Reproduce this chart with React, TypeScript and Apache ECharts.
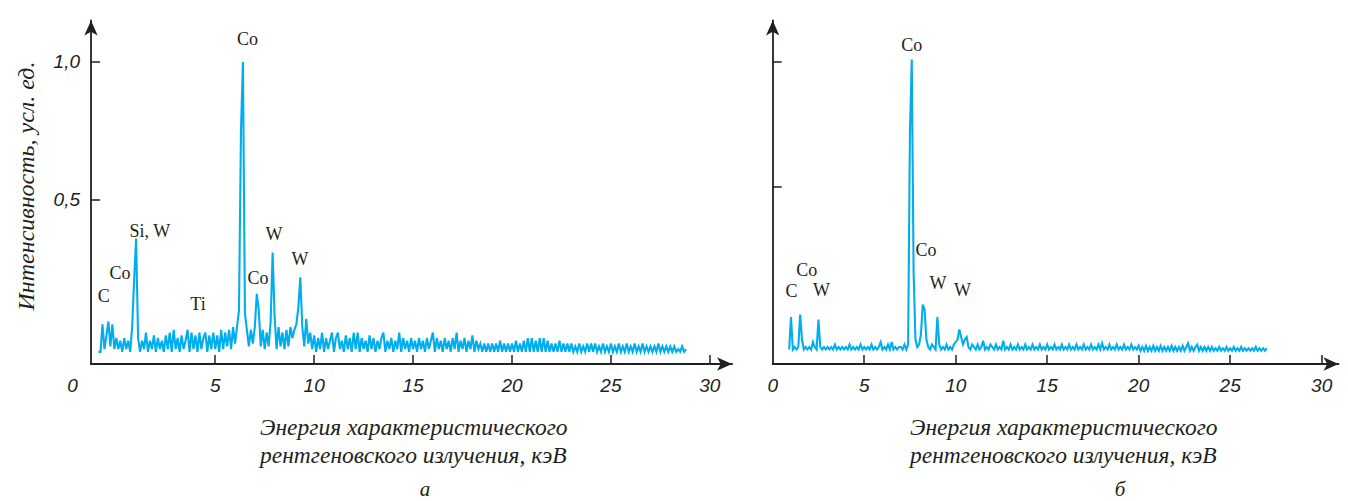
import React, { useEffect, useRef } from "react";
import * as echarts from "echarts";

// ---- Spectrum (a): energy grid start/step (keV), intensities in hundredths of a.u.
const energyStartA = -0.9;
const energyStepA = 0.1;
const intensityA = [
  -5, -5, 5, -4, 1, 6, -3, 5, -4,
  0, -4, -1, -5, 0, -4, -1, -5, 4, 21,
  36, 0, -5, -1, -4, 2, -5, -1, -4, 1,
  -5, 0, -4, -1, -5, 1, -4, 2, -5, 3,
  -4, 0, -5, 1, -4, -1, 3, -5, 2, -4,
  1, -5, 2, -4, 0, 2, -5, 1, -4, 2,
  -4, 1, -5, 3, -4, 2, -3, 3, -4, 4,
  -2, 4, 10, 75, 100, 9, 3, -3, 3, -2,
  4, 16, 10, -3, 3, -4, 2, -3, 6, 31,
  8, -4, 4, -3, 2, -4, 3, -3, 4, 0,
  3, 5, 11, 22, 4, -3, 7, -2, 2, -4,
  1, -5, 0, -4, 2, -5, 0, -4, -1, 2,
  -5, 0, 2, -4, -1, -5, 1, -4, 0, -5,
  2, -4, 2, -5, 0, -4, -1, -5, 1, -4,
  0, -5, -1, -4, 0, 2, -5, -1, -4, 0,
  -5, -1, -4, 2, -5, 0, -4, -1, -5, 0,
  -4, -1, -5, 0, -4, -1, -5, 0, -4, -1,
  2, -5, 0, -4, -1, -5, 0, -4, -1, -5,
  0, -4, 2, -5, -1, -4, 0, -5, -1, -4,
  1, -5, -1, -4, -2, -5, -2, -5, -2, -5,
  -2, -5, -2, -5, -1, -5, -2, -5, -2, -5,
  -2, -5, -1, -5, -2, -5, -1, -5, 0, -5,
  0, -5, -1, -5, 0, -5, 0, -5, -1, -5,
  -2, -5, -2, -5, -1, -5, -2, -5, -2, -5,
  -2, -5, -3, -5, -2, -5, -3, -5, -2, -5,
  -2, -5, -2, -5, -3, -5, -2, -5, -3, -5,
  -2, -5, -3, -5, -2, -5, -3, -5, -2, -5,
  -3, -5, -2, -5, -3, -5, -2, -5, -3, -5,
  -3, -5, -3, -5, -2, -5, -3, -5, -3, -5,
  -3, -5, -3, -5, -4, -5, -3, -5, -4,
];

// ---- Spectrum (б)
const energyStartB = 0.9;
const energyStepB = 0.1;
const intensityB = [
  -15,
  -2, -15, -14, -15, -14, -1, -11, -15, -14, -15,
  -14, -15, -12, -14, -15, -3, -14, -15, -14, -15,
  -14, -15, -14, -15, -13, -15, -14, -15, -14, -15,
  -14, -15, -13, -15, -14, -15, -14, -15, -13, -15,
  -14, -15, -14, -15, -13, -15, -14, -15, -14, -12,
  -15, -14, -15, -13, -15, -12, -15, -14, -15, -14,
  -14, -15, -13, -15, -13, 72, 101, 16, -11, -14,
  -13, -9, 3, 1, -11, -14, -15, -13, -14, -15,
  -2, -13, -15, -14, -15, -13, -15, -14, -15, -13,
  -12, -11, -7, -10, -13, -11, -10, -14, -15, -13,
  -14, -15, -13, -15, -14, -11.5, -15, -14, -15, -13,
  -14, -15, -13, -15, -14, -15, -11.5, -15, -14, -15,
  -13, -15, -14, -15, -13, -15, -14, -15, -13, -15,
  -14, -15, -13, -15, -14, -15, -13, -15, -14, -15,
  -13, -15, -14, -15, -13, -15, -14, -15, -13, -15,
  -14, -15, -13, -15, -14, -15, -13, -15, -14, -15,
  -13, -15, -14, -15, -13, -15, -14, -15, -13, -15,
  -12.5, -15, -14, -15, -13, -15, -14, -15, -13, -15,
  -14, -15, -13, -15, -14, -15, -13, -15, -14, -15,
  -13.5, -15.5, -14, -15.5, -13.5, -15.5, -14, -15.5, -13.5, -15.5,
  -14, -15.5, -13.5, -15.5, -14, -15.5, -14, -15.5, -13.5, -15.5,
  -14, -15.5, -14, -15.5, -13.5, -15.5, -14, -12.5, -15.5, -14,
  -15.5, -14, -13, -15.5, -14, -15.5, -14, -15.5, -14, -15.5,
  -14, -15.5, -14.5, -15.5, -14, -15.5, -14.5, -15.5, -14, -15.5,
  -14.5, -15.5, -14, -15.5, -14.5, -15.5, -14, -15.5, -14.5, -15.5,
  -14.5, -15.5, -14.5, -15.5, -14, -15.5, -14.5, -15.5, -14.5, -15.5,
  -14.5,
];

const xTickValues = [5, 10, 15, 20, 25, 30];
const xLabelValuesB = [0, 5, 10, 15, 20, 25, 30];
const yTickValues = [0.5, 1.0];

const peakLabelsA = ["C", "Co", "Si, W", "Ti", "Co", "Co", "W", "W"];
const peakLabelEnergyA = [-0.63, 0.18, 1.7, 4.13, 6.63, 7.16, 7.97, 9.28];
const peakLabelIntensityA = [0.152, 0.236, 0.388, 0.123, 1.083, 0.217, 0.377, 0.286];

const peakLabelsB = ["C", "Co", "W", "Co", "Co", "W", "W"];
const peakLabelEnergyB = [1.03, 1.86, 2.67, 7.6, 8.38, 9.03, 10.37];
const peakLabelIntensityB = [0.084, 0.168, 0.088, 1.068, 0.248, 0.116, 0.088];

const yTitle = "Интенсивность, усл. ед.";
const xTitleLine1 = "Энергия характеристического";
const xTitleLine2 = "рентгеновского излучения, кэВ";
const panelA = "а";
const panelB = "б";

const INK = "#231f20";
const CYAN = "#00aeef";
const SANS = '"Liberation Sans", Arial, sans-serif';
const SERIF = '"Liberation Serif", "Times New Roman", serif';

function buildSeriesData(start: number, step: number, vals: number[]) {
  return vals.map((v, i) => [Number((start + i * step).toFixed(2)), v / 100]);
}

function markData(names: string[], es: number[], vs: number[]) {
  return names.map((n, i) => ({ name: n, coord: [es[i], vs[i]] }));
}

function xAxisCfg(gridIndex: number, min: number, max: number, labelValues: number[], leftZero: boolean) {
  return {
    type: "value",
    gridIndex,
    min,
    max,
    axisLine: {
      show: true,
      onZero: false,
      symbol: ["none", "arrow"],
      symbolSize: [10, 15],
      lineStyle: { color: INK, width: 1.8 },
    },
    axisTick: { show: true, inside: true, length: 9, customValues: xTickValues, lineStyle: { color: INK, width: 1.5 } },
    axisLabel: {
      show: true,
      customValues: labelValues,
      margin: 12,
      color: INK,
      fontSize: 19,
      fontStyle: "italic",
      fontFamily: SANS,
      formatter: (v: number) => (leftZero && v < 0 ? "{z|0}" : String(v)),
      rich: {
        z: { padding: [0, 37, 0, 0], color: INK, fontSize: 19, fontStyle: "italic", fontFamily: SANS },
      },
    },
    splitLine: { show: false },
  };
}

function yAxisCfg(gridIndex: number, min: number, max: number, showLabels: boolean) {
  return {
    type: "value",
    gridIndex,
    min,
    max,
    axisLine: {
      show: true,
      onZero: false,
      symbol: ["none", "arrow"],
      symbolSize: [10, 15],
      lineStyle: { color: INK, width: 1.8 },
    },
    axisTick: { show: true, inside: true, length: 9, customValues: yTickValues, lineStyle: { color: INK, width: 1.5 } },
    axisLabel: {
      show: showLabels,
      customValues: yTickValues,
      margin: 11,
      color: INK,
      fontSize: 19,
      fontStyle: "italic",
      fontFamily: SANS,
      formatter: (v: number) => v.toFixed(1).replace(".", ","),
    },
    splitLine: { show: false },
  };
}

function seriesCfg(idx: number, data: number[][], marks: any[]) {
  return {
    type: "line",
    xAxisIndex: idx,
    yAxisIndex: idx,
    data,
    showSymbol: false,
    symbol: "none",
    silent: true,
    lineStyle: { color: CYAN, width: 2.1, join: "miter" },
    markPoint: {
      symbol: "circle",
      symbolSize: 1,
      itemStyle: { color: "rgba(0,0,0,0)" },
      label: {
        show: true,
        position: "inside",
        formatter: "{b}",
        color: INK,
        fontSize: 18,
        fontFamily: SERIF,
      },
      data: marks,
    },
  };
}

function titleText(x: number, y: number, text: string, align: string, size: number, rotation = 0) {
  return {
    type: "text",
    x,
    y,
    rotation,
    silent: true,
    style: {
      text,
      fill: INK,
      fontSize: size,
      fontStyle: "italic",
      fontFamily: SERIF,
      align,
      verticalAlign: "middle",
    },
  };
}

export default function App() {
  const ref = useRef<HTMLDivElement>(null);
  useEffect(() => {
    if (!ref.current) return;
    const chart = echarts.init(ref.current, null, { renderer: "svg" });
    const dataA = buildSeriesData(energyStartA, energyStepA, intensityA);
    const dataB = buildSeriesData(energyStartB, energyStepB, intensityB);
    chart.setOption({
      animation: false,
      backgroundColor: "#ffffff",
      grid: [
        { left: 91, top: 20.5, width: 641, height: 343.5, containLabel: false },
        { left: 772.7, top: 20.5, width: 565.8, height: 343.5, containLabel: false },
      ],
      xAxis: [
        xAxisCfg(0, -1.28, 31.12, [-1.28, ...xTickValues], true),
        xAxisCfg(1, 0, 30.92, xLabelValuesB, false),
      ],
      yAxis: [yAxisCfg(0, -0.094, 1.15, true), yAxisCfg(1, -0.208, 1.166, false)],
      series: [
        seriesCfg(0, dataA, markData(peakLabelsA, peakLabelEnergyA, peakLabelIntensityA)),
        seriesCfg(1, dataB, markData(peakLabelsB, peakLabelEnergyB, peakLabelIntensityB)),
      ],
      graphic: [
        titleText(26, 186, yTitle, "center", 24, Math.PI / 2),
        titleText(260, 427, xTitleLine1, "left", 23.5),
        titleText(260, 455, xTitleLine2, "left", 23.5),
        titleText(910, 427, xTitleLine1, "left", 23.5),
        titleText(910, 455, xTitleLine2, "left", 23.5),
        titleText(425, 489, panelA, "center", 21),
        titleText(1120, 489, panelB, "center", 21),
      ],
    });
    return () => chart.dispose();
  }, []);
  return (
    <div
      ref={ref}
      style={{ position: "absolute", left: 0, top: 0, width: 1348, height: 501, background: "#fff" }}
    />
  );
}
